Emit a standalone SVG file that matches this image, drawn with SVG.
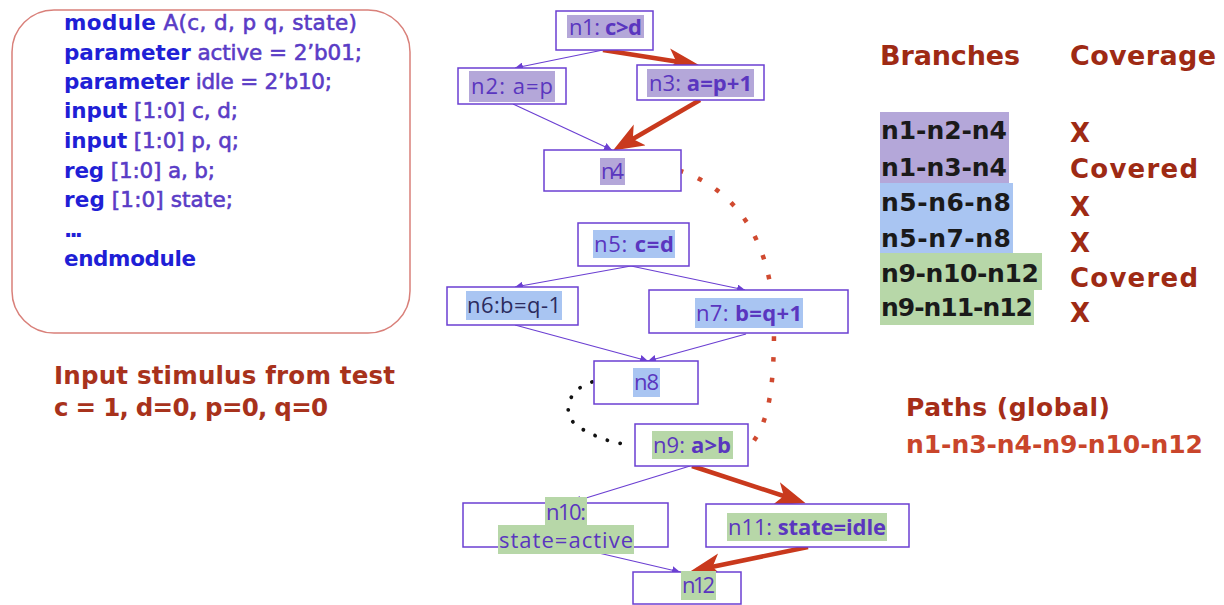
<svg xmlns="http://www.w3.org/2000/svg" width="1224" height="605" viewBox="0 0 1224 605">
<style>
  .code { font-family: "DejaVu Sans", sans-serif; font-size: 21.5px; }
  .kw { fill: #1f1fd6; font-weight: 700; }
  .id { fill: #5a3cc6; font-weight: 400; stroke: #5a3cc6; stroke-width: 0.6; }
  .box { fill: #ffffff; stroke: #6b3fd2; stroke-width: 1.5; }
  .lbl { font-family: "Open Sans", "Liberation Sans", sans-serif; font-size: 22px; fill: #5a36bf; }
  .b { font-weight: 700; }
  .hp { fill: #b4a7d9; }
  .hb { fill: #a9c5f2; }
  .hg { fill: #b7d7a8; }
  .thin { fill: none; stroke: #6b3fd2; stroke-width: 1.2; }
  .red { fill: none; stroke: #c9391d; stroke-width: 4.5; }
  .hdr { font-family: "DejaVu Sans", sans-serif; font-size: 27px; font-weight: 700; fill: #9e2a14; }
  .br { font-family: "DejaVu Sans", sans-serif; font-size: 25px; font-weight: 700; fill: #1a1a1a; }
  .cov { font-family: "DejaVu Sans", sans-serif; font-size: 26px; font-weight: 700; fill: #9e2a14; }
  .note { font-family: "DejaVu Sans", sans-serif; font-size: 24.5px; font-weight: 700; fill: #a8321c; }
  .pth { font-family: "DejaVu Sans", sans-serif; font-size: 25px; font-weight: 700; }
</style>
<defs>
  <marker id="ah" markerUnits="userSpaceOnUse" markerWidth="10" markerHeight="8" refX="8" refY="4" orient="auto">
    <path d="M0,0 L8,4 L0,8 z" fill="#6b3fd2"/>
  </marker>
  <marker id="rh" markerUnits="userSpaceOnUse" markerWidth="34" markerHeight="26" refX="24" refY="12" orient="auto">
    <path d="M0,0 L31,12 L0,24 L8,12 z" fill="#c9391d"/>
  </marker>
</defs>
<rect width="1224" height="605" fill="#ffffff"/>

<g id="code">
  <rect x="12" y="10" width="398" height="323" rx="42" ry="42" fill="#ffffff" stroke="#d9807a" stroke-width="1.5"/>
  <text class="code" x="64" y="30" textLength="293" lengthAdjust="spacing"><tspan class="kw">module</tspan><tspan class="id"> A(c, d, p q, state)</tspan></text>
  <text class="code" x="64" y="60" textLength="298" lengthAdjust="spacing"><tspan class="kw">parameter</tspan><tspan class="id"> active = 2’b01;</tspan></text>
  <text class="code" x="64" y="89" textLength="268" lengthAdjust="spacing"><tspan class="kw">parameter</tspan><tspan class="id"> idle = 2’b10;</tspan></text>
  <text class="code" x="64" y="118" textLength="174" lengthAdjust="spacing"><tspan class="kw">input</tspan><tspan class="id"> [1:0] c, d;</tspan></text>
  <text class="code" x="64" y="148" textLength="175" lengthAdjust="spacing"><tspan class="kw">input</tspan><tspan class="id"> [1:0] p, q;</tspan></text>
  <text class="code" x="64" y="178" textLength="151" lengthAdjust="spacing"><tspan class="kw">reg</tspan><tspan class="id"> [1:0] a, b;</tspan></text>
  <text class="code" x="64" y="207" textLength="169" lengthAdjust="spacing"><tspan class="kw">reg</tspan><tspan class="id"> [1:0] state;</tspan></text>
  <text class="code" x="64" y="237" textLength="19" lengthAdjust="spacing"><tspan class="kw">...</tspan></text>
  <text class="code" x="64" y="266" textLength="132" lengthAdjust="spacing"><tspan class="kw">endmodule</tspan></text>
</g>

<g id="stimulus">
  <text class="note" x="54" y="384" textLength="341" lengthAdjust="spacing">Input stimulus from test</text>
  <text class="note" x="54" y="416" textLength="274" lengthAdjust="spacing">c = 1, d=0, p=0, q=0</text>
</g>

<g id="connectors">
  <line class="thin" x1="603" y1="50" x2="515" y2="68" marker-end="url(#ah)"/>
  <line class="thin" x1="513" y1="104" x2="612" y2="150" marker-end="url(#ah)"/>
  <line class="red" x1="603" y1="50" x2="692" y2="64" marker-end="url(#rh)"/>
  <line class="red" x1="700" y1="100" x2="619" y2="147" marker-end="url(#rh)"/>
  <line class="thin" x1="631" y1="266" x2="515" y2="287" marker-end="url(#ah)"/>
  <line class="thin" x1="631" y1="266" x2="745" y2="290" marker-end="url(#ah)"/>
  <line class="thin" x1="515" y1="325" x2="648" y2="361" marker-end="url(#ah)"/>
  <line class="thin" x1="746" y1="334" x2="648" y2="361" marker-end="url(#ah)"/>
  <line class="thin" x1="690" y1="466" x2="573" y2="502" marker-end="url(#ah)"/>
  <line class="thin" x1="573" y1="547" x2="680" y2="572" marker-end="url(#ah)"/>
  <line class="red" x1="692" y1="466" x2="799" y2="501" marker-end="url(#rh)"/>
  <line class="red" x1="808" y1="547" x2="697" y2="570" marker-end="url(#rh)"/>
  <path d="M681,171 C735,190 774,240 774,330 C774,395 767,425 750,446" fill="none" stroke="#d04a30" stroke-width="4.5" stroke-linecap="square" stroke-dasharray="0.1 20.5"/>
  <path d="M592,382 C565,390 560,418 582,429 C596,437 612,443 626,444" fill="none" stroke="#111111" stroke-width="3.8" stroke-linecap="round" stroke-dasharray="0.1 13"/>
</g>

<g id="n1">
  <rect class="box" x="556" y="11" width="97" height="39"/>
  <rect class="hp" x="567" y="15" width="77" height="23"/>
  <text class="lbl" x="569" y="35" textLength="73" lengthAdjust="spacing">n1: <tspan class="b">c&gt;d</tspan></text>
</g>
<g id="n2">
  <rect class="box" x="458" y="68" width="108" height="36"/>
  <rect class="hp" x="469" y="71" width="86" height="31"/>
  <text class="lbl" x="471" y="94" textLength="82" lengthAdjust="spacing">n2: a=p</text>
</g>
<g id="n3">
  <rect class="box" x="637" y="65" width="127" height="35"/>
  <rect class="hp" x="647" y="69" width="107" height="28"/>
  <text class="lbl" x="649" y="91" textLength="103" lengthAdjust="spacing">n3: <tspan class="b">a=p+1</tspan></text>
</g>
<g id="n4">
  <rect class="box" x="544" y="150" width="137" height="41"/>
  <rect class="hp" x="600" y="158" width="25" height="27"/>
  <text class="lbl" x="601" y="179" textLength="23" lengthAdjust="spacing">n4</text>
</g>
<g id="n5">
  <rect class="box" x="578" y="223" width="111" height="43"/>
  <rect class="hb" x="593" y="230" width="82" height="28"/>
  <text class="lbl" x="594" y="252" textLength="80" lengthAdjust="spacing">n5: <tspan class="b">c=d</tspan></text>
</g>
<g id="n6">
  <rect class="box" x="447" y="287" width="131" height="38"/>
  <rect class="hb" x="466" y="291" width="96" height="29"/>
  <text class="lbl" x="467" y="313" textLength="94" lengthAdjust="spacing" style="fill:#2b2b5e">n6:b=q-1</text>
</g>
<g id="n7">
  <rect class="box" x="649" y="290" width="199" height="43"/>
  <rect class="hb" x="695" y="298" width="108" height="30"/>
  <text class="lbl" x="696" y="321" textLength="106" lengthAdjust="spacing">n7: <tspan class="b">b=q+1</tspan></text>
</g>
<g id="n8">
  <rect class="box" x="594" y="361" width="104" height="43"/>
  <rect class="hb" x="633" y="368" width="27" height="29"/>
  <text class="lbl" x="634" y="390" textLength="25" lengthAdjust="spacing">n8</text>
</g>
<g id="n9">
  <rect class="box" x="635" y="424" width="113" height="42"/>
  <rect class="hg" x="652" y="431" width="81" height="28"/>
  <text class="lbl" x="653" y="453" textLength="78" lengthAdjust="spacing">n9: <tspan class="b">a&gt;b</tspan></text>
</g>
<g id="n10">
  <rect class="box" x="463" y="503" width="205" height="44"/>
  <rect class="hg" x="545" y="497" width="42" height="28"/>
  <rect class="hg" x="498" y="525" width="136" height="29"/>
  <text class="lbl" x="546" y="520" textLength="40" lengthAdjust="spacing">n10:</text>
  <text class="lbl" x="499" y="548" textLength="134" lengthAdjust="spacing">state=active</text>
</g>
<g id="n11">
  <rect class="box" x="706" y="504" width="203" height="43"/>
  <rect class="hg" x="727" y="513" width="160" height="28"/>
  <text class="lbl" x="728" y="535" textLength="158" lengthAdjust="spacing">n11: <tspan class="b">state=idle</tspan></text>
</g>
<g id="n12">
  <rect class="box" x="633" y="572" width="108" height="32"/>
  <rect class="hg" x="681" y="571" width="35" height="29"/>
  <text class="lbl" x="682" y="593" textLength="33" lengthAdjust="spacing">n12</text>
</g>

<g id="table">
  <text class="hdr" x="880" y="65" textLength="140" lengthAdjust="spacing">Branches</text>
  <text class="hdr" x="1070" y="65" textLength="146" lengthAdjust="spacing">Coverage</text>
  <rect class="hp" x="880" y="112" width="129" height="34"/>
  <rect class="hp" x="880" y="146" width="129" height="37"/>
  <rect class="hb" x="880" y="183" width="133" height="34"/>
  <rect class="hb" x="880" y="217" width="133" height="36"/>
  <rect class="hg" x="880" y="253" width="162" height="37"/>
  <rect class="hg" x="880" y="290" width="154" height="35"/>
  <text class="br" x="881" y="139" textLength="126" lengthAdjust="spacing">n1-n2-n4</text>
  <text class="br" x="881" y="176" textLength="126" lengthAdjust="spacing">n1-n3-n4</text>
  <text class="br" x="881" y="211" textLength="130" lengthAdjust="spacing">n5-n6-n8</text>
  <text class="br" x="881" y="247" textLength="130" lengthAdjust="spacing">n5-n7-n8</text>
  <text class="br" x="881" y="282" textLength="158" lengthAdjust="spacing">n9-n10-n12</text>
  <text class="br" x="881" y="316" textLength="152" lengthAdjust="spacing">n9-n11-n12</text>
  <text class="cov" x="1070" y="142">X</text>
  <text class="cov" x="1070" y="178" textLength="128" lengthAdjust="spacing">Covered</text>
  <text class="cov" x="1070" y="216">X</text>
  <text class="cov" x="1070" y="252">X</text>
  <text class="cov" x="1070" y="287" textLength="128" lengthAdjust="spacing">Covered</text>
  <text class="cov" x="1070" y="322">X</text>
</g>

<g id="paths">
  <text class="pth" x="906" y="416" textLength="204" lengthAdjust="spacing" fill="#a52d18">Paths (global)</text>
  <text class="pth" x="906" y="453" textLength="297" lengthAdjust="spacing" fill="#c9452b">n1-n3-n4-n9-n10-n12</text>
</g>
</svg>
